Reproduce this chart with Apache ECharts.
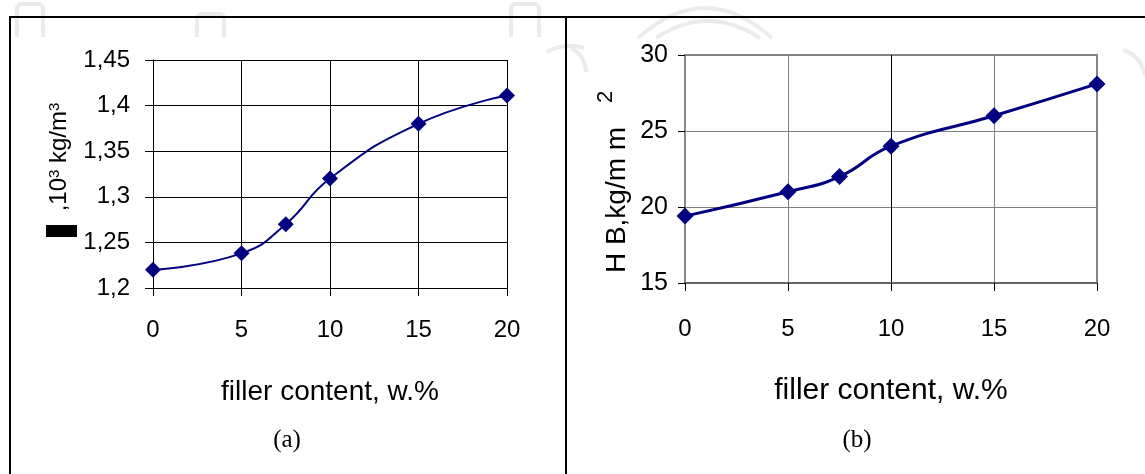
<!DOCTYPE html>
<html>
<head>
<meta charset="utf-8">
<script src="https://cdn.jsdelivr.net/npm/echarts@6/dist/echarts.min.js"></script>
<style>
html,body{margin:0;padding:0;background:#fff;}
#c{width:1145px;height:474px;}
</style>
</head>
<body>
<div id="c"></div>
<script>
// ---- data ----
var fillerContent = [0, 5, 7.5, 10, 15, 20];
var density = [1.22, 1.238, 1.27, 1.32, 1.38, 1.411];
var hardness = [19.4, 21, 22, 24, 26, 28.1];
var xTicks = [0, 5, 10, 15, 20];
var densityTicks = ['1,2', '1,25', '1,3', '1,35', '1,4', '1,45'];
var hardnessTicks = [15, 20, 25, 30];
var xTitle = 'filler content, w.%';
var densityTitle = ',10{sup|3} kg/m{sup|3}';
var hardnessTitle = 'H B,kg/m m';
var captionA = '(a)';
var captionB = '(b)';

function pairs(xs, ys) { return xs.map(function (x, i) { return [x, ys[i]]; }); }

var NAVY = '#000080';
var ARIAL = 'Liberation Sans, Arial, sans-serif';
var SERIF = 'Liberation Serif, DejaVu Serif, serif';
var WM = '#ebebeb';

function wmArch(x1, x2, yTop, yBot) {
  return {type: 'polyline', silent: true, z: -10,
    shape: {points: [[x1, yBot], [x1, yTop + 3], [x1 + 3, yTop], [x2 - 3, yTop], [x2, yTop + 3], [x2, yBot]]},
    style: {fill: 'none', stroke: WM, lineWidth: 4}};
}
function wmCurve(x1, y1, cx, cy, x2, y2) {
  return {type: 'bezierCurve', silent: true, z: -10,
    shape: {x1: x1, y1: y1, cpx1: cx, cpy1: cy, x2: x2, y2: y2},
    style: {fill: 'none', stroke: WM, lineWidth: 4}};
}

var chart = echarts.init(document.getElementById('c'), null, {renderer: 'canvas'});

var option = {
  backgroundColor: '#fff',
  animation: false,
  grid: [
    {left: 153, top: 60, width: 354, height: 228, containLabel: false},
    {left: 685, top: 55, width: 412, height: 228, containLabel: false, show: true, borderColor: '#888', borderWidth: 2, backgroundColor: 'transparent'}
  ],
  xAxis: [
    {
      type: 'value', gridIndex: 0, min: 0, max: 20, interval: 5,
      axisLine: {show: true, onZero: false, lineStyle: {color: '#000', width: 1}},
      axisTick: {show: true, length: 8, lineStyle: {color: '#000'}},
      axisLabel: {margin: 30, fontSize: 24, color: '#000', fontFamily: ARIAL,
        formatter: function (v) { return xTicks.indexOf(v) >= 0 ? String(v) : ''; }},
      splitLine: {show: true, lineStyle: {color: '#000', width: 1}},
      name: xTitle, nameLocation: 'middle', nameGap: 90,
      nameTextStyle: {fontSize: 28, color: '#000', fontFamily: ARIAL}
    },
    {
      type: 'value', gridIndex: 1, min: 0, max: 20, interval: 5,
      axisLine: {show: true, onZero: false, lineStyle: {color: '#666', width: 2}},
      axisTick: {show: true, length: 8, lineStyle: {color: '#000'}},
      axisLabel: {margin: 34, fontSize: 24, color: '#000', fontFamily: ARIAL,
        formatter: function (v) { return xTicks.indexOf(v) >= 0 ? String(v) : ''; }},
      splitLine: {show: true, lineStyle: {color: ['#808080', '#808080', '#000', '#808080', '#808080'], width: 1}},
      name: xTitle, nameLocation: 'middle', nameGap: 93,
      nameTextStyle: {fontSize: 30, color: '#000', fontFamily: ARIAL}
    }
  ],
  yAxis: [
    {
      type: 'value', gridIndex: 0, min: 1.2, max: 1.45, interval: 0.05,
      axisLine: {show: true, onZero: false, lineStyle: {color: '#000', width: 1}},
      axisTick: {show: true, length: 8, lineStyle: {color: '#000'}},
      axisLabel: {margin: 23, fontSize: 24, color: '#000', fontFamily: ARIAL,
        formatter: function (v) {
          var i = Math.round((v - 1.2) / 0.05);
          return densityTicks[i] || '';
        }},
      splitLine: {show: true, lineStyle: {color: '#000', width: 1}},
      name: densityTitle, nameLocation: 'middle', nameRotate: 90, nameGap: 82,
      nameTextStyle: {fontSize: 24, color: '#000', fontFamily: ARIAL, padding: [0, 0, 0, 34],
        rich: {sup: {fontSize: 15, color: '#000', fontFamily: ARIAL, verticalAlign: 'top', lineHeight: 24}}}
    },
    {
      type: 'value', gridIndex: 1, min: 15, max: 30, interval: 5,
      axisLine: {show: true, onZero: false, lineStyle: {color: '#888', width: 1}},
      axisTick: {show: true, length: 7, lineStyle: {color: '#000'}},
      axisLabel: {margin: 17, fontSize: 25, color: '#000', fontFamily: ARIAL,
        formatter: function (v) { return hardnessTicks.indexOf(v) >= 0 ? String(v) : ''; }},
      splitLine: {show: true, lineStyle: {color: '#808080', width: 1}},
      name: hardnessTitle, nameLocation: 'middle', nameRotate: 90, nameGap: 54,
      nameTextStyle: {fontSize: 28, color: '#000', fontFamily: ARIAL, padding: [0, 62, 0, 0]}
    }
  ],
  series: [
    {
      type: 'line', xAxisIndex: 0, yAxisIndex: 0, data: pairs(fillerContent, density),
      smooth: true, symbol: 'diamond', symbolSize: 16,
      lineStyle: {color: NAVY, width: 2}, itemStyle: {color: NAVY}, z: 5
    },
    {
      type: 'line', xAxisIndex: 1, yAxisIndex: 1, data: pairs(fillerContent, hardness),
      smooth: true, symbol: 'diamond', symbolSize: 17,
      lineStyle: {color: NAVY, width: 3}, itemStyle: {color: NAVY}, z: 5
    }
  ],
  graphic: [
    // watermark (faint)
    wmArch(17, 43, 4, 37),
    wmArch(197, 224, 14, 37),
    wmArch(511, 539, 4, 37),
    wmCurve(547, 52, 565, 42, 584, 48),
    wmCurve(638, 38, 705, -22, 772, 38),
    wmCurve(656, 38, 707, 4, 760, 38),
    wmCurve(571, 48, 585, 55, 586, 72),
    wmCurve(1123, 50, 1140, 55, 1145, 75),
    // frame
    {type: 'line', silent: true, shape: {x1: 9, y1: 17, x2: 1145, y2: 17}, style: {stroke: '#000', lineWidth: 2}},
    {type: 'line', silent: true, shape: {x1: 10, y1: 16, x2: 10, y2: 474}, style: {stroke: '#000', lineWidth: 2}},
    {type: 'line', silent: true, shape: {x1: 566, y1: 16, x2: 566, y2: 474}, style: {stroke: '#000', lineWidth: 2}},
    // missing-glyph block in left axis title
    {type: 'rect', silent: true, shape: {x: 46, y: 225, width: 31, height: 12}, style: {fill: '#000'}},
    // misplaced exponent of right axis title
    {type: 'text', silent: true, x: 606, y: 97, rotation: Math.PI / 2,
      style: {text: '2', fontSize: 22, fontFamily: ARIAL, fill: '#000', align: 'center', verticalAlign: 'middle'}},
    // captions
    {type: 'text', silent: true, x: 287, y: 440,
      style: {text: captionA, fontSize: 25, fontFamily: SERIF, fill: '#000', align: 'center', verticalAlign: 'middle'}},
    {type: 'text', silent: true, x: 857, y: 440,
      style: {text: captionB, fontSize: 25, fontFamily: SERIF, fill: '#000', align: 'center', verticalAlign: 'middle'}}
  ]
};
chart.setOption(option);
</script>
</body>
</html>
